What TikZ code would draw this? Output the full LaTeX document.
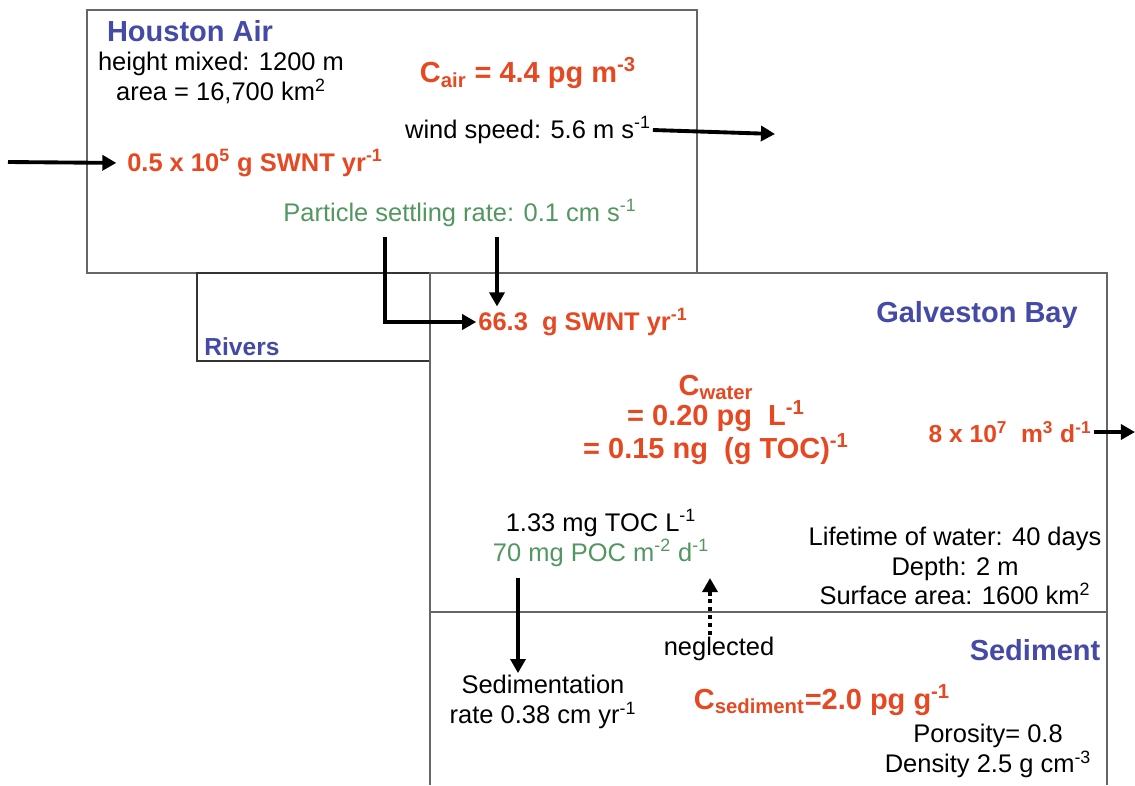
\documentclass[tikz,border=0pt]{standalone}
\usepackage{fontspec}
\setmainfont{Liberation Sans}
\usetikzlibrary{arrows.meta}

\definecolor{fluxred}{RGB}{230,72,34}
\definecolor{boxblue}{RGB}{68,74,165}
\definecolor{notegreen}{RGB}{82,150,96}

\tikzset{
	txt/.style={inner sep=1pt, align=center, font=\fontsize{14.5}{17}\selectfont},
	flux/.style={txt, text=fluxred, font=\fontsize{14.5}{17}\selectfont\bfseries},
	conc/.style={txt, text=fluxred, font=\fontsize{16.5}{17.5}\selectfont\bfseries},
	boxname/.style={txt, text=boxblue, font=\fontsize{16.5}{19}\selectfont\bfseries},
	note/.style={txt, text=notegreen},
	frame/.style={draw=black!60, line width=0.8pt},
	flow/.style={line width=2.2pt, -{Triangle[length=8pt,width=8.5pt]}},
	flowdot/.style={flow, dash pattern=on 2.5pt off 2pt},
}

\newcommand{\up}[1]{\textsuperscript{#1}}
\newcommand{\dn}[1]{\textsubscript{#1}}

\begin{document}
\begin{tikzpicture}[x={(0.02cm,0)}, y={(0,-0.02cm)}]

	\useasboundingbox (0,0) rectangle (1135,785);
	
	%Kompartimente
	\draw[frame] (87,10) rectangle (697,273);
	\draw[frame, draw=black!80] (197,273) rectangle (430,361);
	\draw[frame] (430,785) -- (430,273) -- (1107,273) -- (1107,785);
	\draw[frame] (430,612) -- (1107,612);
	
	%Luft
	\node[boxname] (houston) at (190,31) {Houston Air};
	\node[txt] (airdata) at (221,78) {height mixed: 1200 m\\area = 16,700 km\up{2}};
	\node[conc] (cair) at (528,73) {C\dn{air} = 4.4 pg m\up{-3}};
	\node[txt] (wind) at (528,130) {wind speed: 5.6 m s\up{-1}};
	\node[flux] (emission) at (255,163) {0.5 x 10\up{5} g SWNT yr\up{-1}};
	\node[note] (settling) at (460,213) {Particle settling rate: 0.1 cm s\up{-1}};
	
	%Bucht
	\node[boxname, font=\fontsize{14}{16}\selectfont\bfseries] (rivers) at (242,347) {Rivers};
	\node[boxname] (galveston) at (977,315) {Galveston Bay};
	\node[flux] (deposition) at (583,322) {66.3~ g SWNT yr\up{-1}};
	\node[conc] (cwater) at (716,420) {C\dn{water}\\= 0.20 pg~ L\up{-1}\\= 0.15 ng~ (g TOC)\up{-1}};
	\node[flux, font=\fontsize{14}{17}\selectfont\bfseries] (outflow) at (1010,432) {8 x 10\up{7}~ m\up{3} d\up{-1}};
	\node[txt] (toc) at (601,538) {1.33 mg TOC L\up{-1}\\\textcolor{notegreen}{70 mg POC m\up{-2} d\up{-1}}};
	\node[txt] (baydata) at (955,566) {Lifetime of water: 40 days\\Depth: 2 m\\Surface area: 1600 km\up{2}};
	
	%Sediment
	\node[boxname] (sediment) at (1035,650) {Sediment};
	\node[txt] (neglected) at (719,649) {neglected};
	\node[txt] (sedrate) at (543,702) {Sedimentation\\rate 0.38 cm yr\up{-1}};
	\node[conc] (csed) at (822,700) {C\dn{sediment}=2.0 pg g\up{-1}};
	\node[txt] (seddata) at (988,751) {Porosity= 0.8\\Density 2.5 g cm\up{-3}};
	
	%Flüsse
	\coordinate (west) at (8,162);
	\coordinate (east) at (775,134);
	\coordinate (bayout) at (1135,432);
	\coordinate (settleA) at (385,237);
	\coordinate (settleB) at (497,237);
	\coordinate (sink) at (518,578);
	\coordinate (resusp) at (710,578);
	
	\draw[flow, shorten >=5pt] (west) -- (emission.west);
	\draw[flow] (wind.east) -- (east);
	\draw[flow] (settleA) |- (deposition.west);
	\draw[flow] (settleB) -- (settleB |- deposition.north);
	\draw[flow] (outflow.east) -- (bayout);
	\draw[flow] (sink) -- (sink |- sedrate.north);
	\draw[flowdot] (resusp |- neglected.north) -- (resusp);
	
\end{tikzpicture}
\end{document}
